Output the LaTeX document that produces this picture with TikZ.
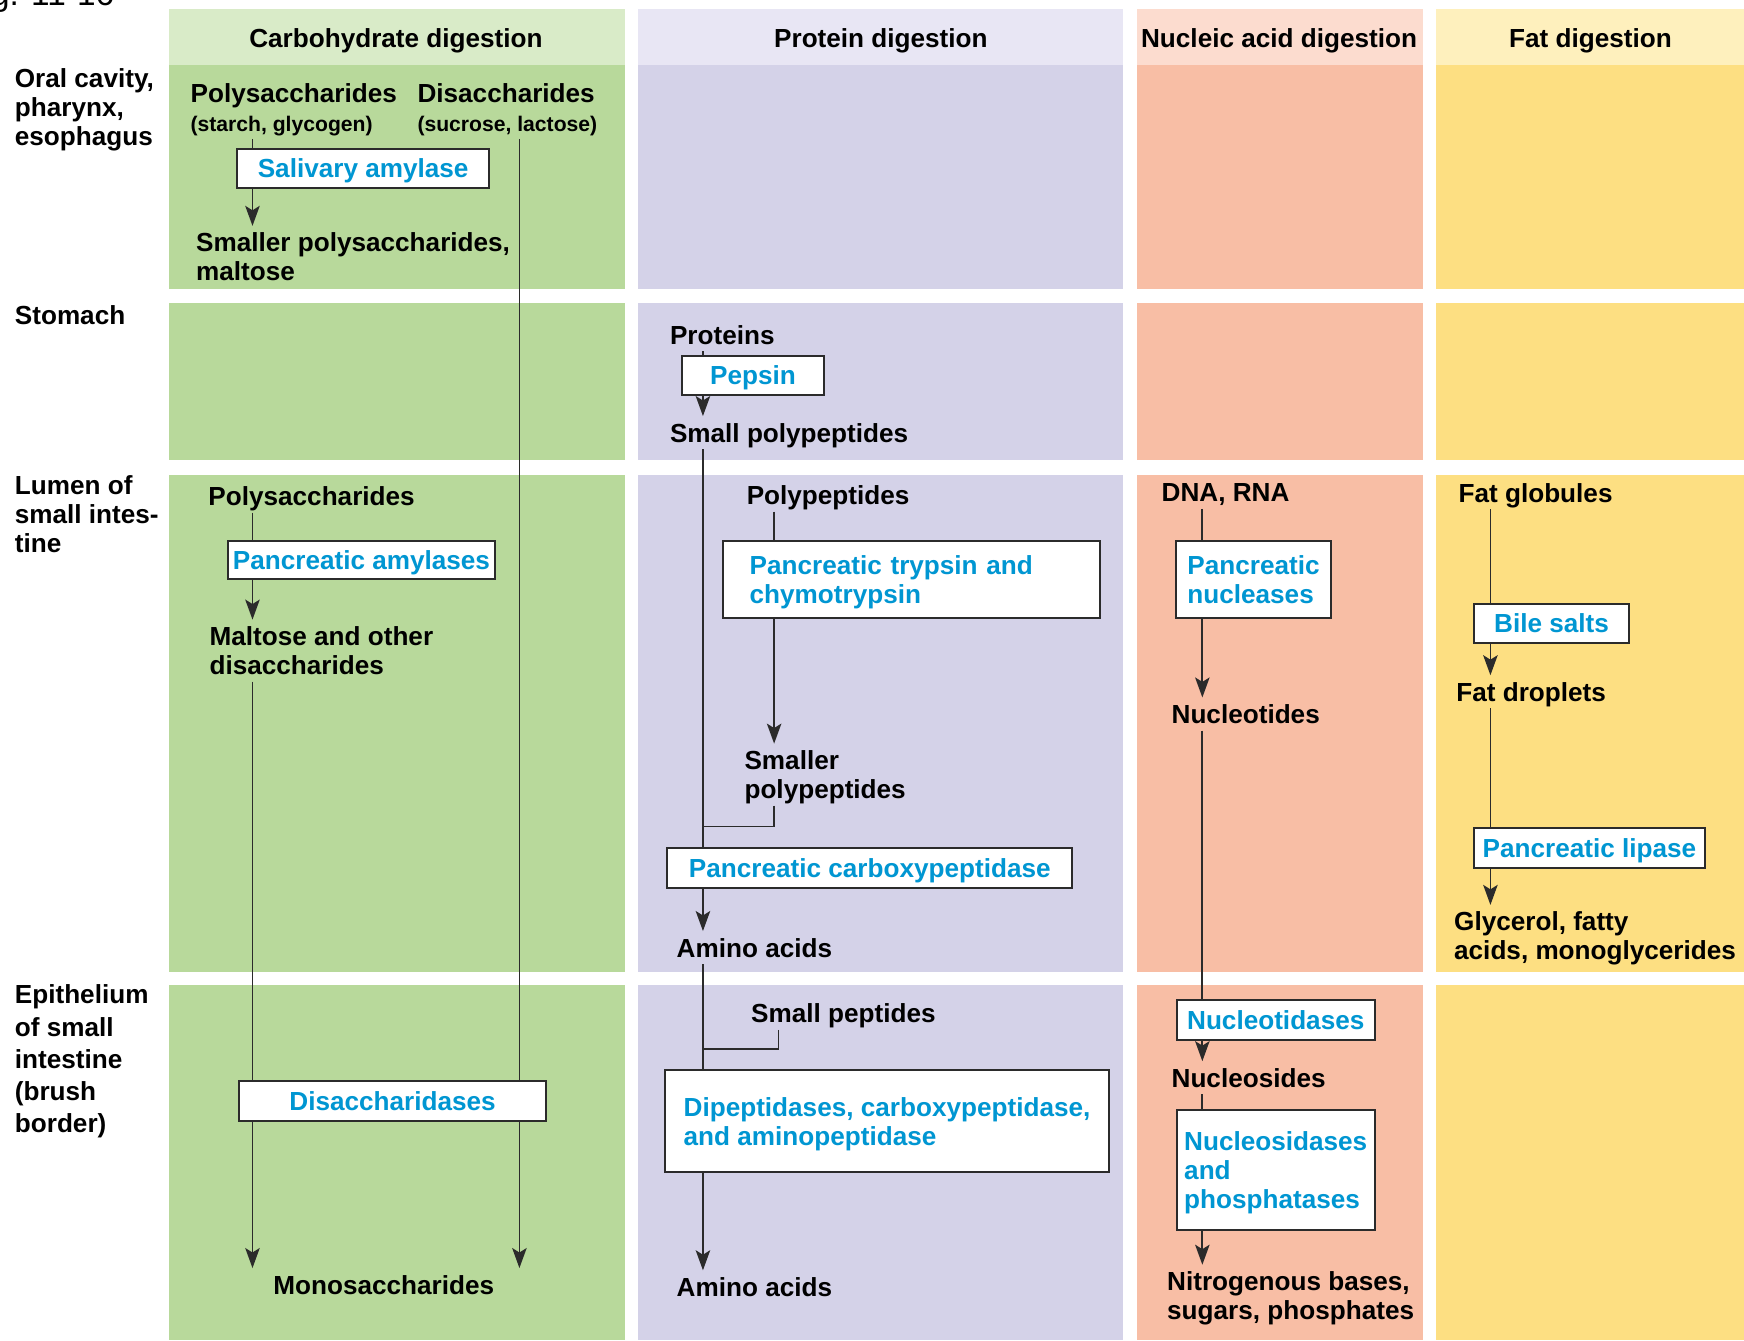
\documentclass[tikz,border=0pt]{standalone}
\usepackage{fontspec}
\setmainfont{Liberation Sans}
\usetikzlibrary{arrows.meta}

\definecolor{carbhead}{HTML}{D9EBC8}
\definecolor{carbbody}{HTML}{B8D99B}
\definecolor{prothead}{HTML}{E8E6F4}
\definecolor{protbody}{HTML}{D4D2E8}
\definecolor{nuchead}{HTML}{FCDCCF}
\definecolor{nucbody}{HTML}{F8BEA5}
\definecolor{fathead}{HTML}{FEF0BD}
\definecolor{fatbody}{HTML}{FDDF82}
\definecolor{enzblue}{RGB}{0,150,210}
\definecolor{linegray}{HTML}{2B2B2B}

\begin{document}
\begin{tikzpicture}[x=0.5pt,y=-0.5pt]
\tikzset{lbl/.style={font=\fontsize{11.75}{13}\selectfont\bfseries, inner xsep=0pt, inner ysep=3pt, text depth=0pt, anchor=west, align=left}}
\tikzset{hdr/.style={font=\fontsize{11.75}{13}\selectfont\bfseries, inner sep=0pt, text depth=0pt}}
\tikzset{enz/.style={draw=linegray, line width=0.9pt, fill=white, text=enzblue, font=\fontsize{11.75}{13}\selectfont\bfseries, inner xsep=0pt, inner ysep=0pt, text depth=0pt, align=left}}
\tikzset{flow/.style={draw=linegray, line width=0.8pt}}
\tikzset{flowarr/.style={flow, -{Stealth[length=9pt,width=6.5pt,inset=2pt]}}}

\useasboundingbox (0,0) rectangle (1568,1205);
\clip (0,0) rectangle (1568,1205);

% columns and rows
\foreach \xa/\xb/\hc/\bc in {152/562/carbhead/carbbody, 574/1010/prothead/protbody, 1022/1279/nuchead/nucbody, 1291/1568/fathead/fatbody}{
  \fill[\hc] (\xa,8) rectangle (\xb,58);
  \foreach \ya/\yb in {58/260, 272/414, 427/874, 886/1205}
    \fill[\bc] (\xa,\ya) rectangle (\xb,\yb);
}

\node[font=\fontsize{15}{18}\selectfont, anchor=base east, inner sep=0pt] (fig) at (103,4.5) {Fig. 11-16};

% headers
\node[hdr] (hcarb) at (356,34) {Carbohydrate digestion};
\node[hdr] (hprot) at (792,34) {Protein digestion};
\node[hdr] (hnuc) at (1150,34) {Nucleic acid digestion};
\node[hdr] (hfat) at (1430,34) {Fat digestion};

% row labels
\node[lbl] (oral) at (13,96) {Oral cavity,\\pharynx,\\esophagus};
\node[lbl] (stomach) at (13,283) {Stomach};
\node[lbl] (lumen) at (13,462) {Lumen of\\small intes-\\tine};
\node[lbl, font=\fontsize{11.75}{14.5}\selectfont\bfseries] (epith) at (13,952) {Epithelium\\of small\\intestine\\(brush\\border)};

% carbohydrate
\node[lbl] (polyA) at (171,97) {Polysaccharides\\{\fontsize{9.5}{13}\selectfont (starch, glycogen)}};
\node[lbl] (disA) at (375,97) {Disaccharides\\{\fontsize{9.5}{13}\selectfont (sucrose, lactose)}};
\node[enz, minimum width=113.5pt, minimum height=17.5pt] (salamyl) at (326.5,151.5) {Salivary amylase};
\node[lbl] (smallpoly) at (176,231) {Smaller polysaccharides,\\maltose};
\node[lbl] (polyB) at (187,446) {Polysaccharides};
\node[enz, minimum width=120pt, minimum height=17.5pt] (panamyl) at (325,503.5) {Pancreatic amylases};
\node[lbl] (maltose) at (188,585) {Maltose and other\\disaccharides};
\node[enz, minimum width=138pt, minimum height=18pt] (disacch) at (353,990) {Disaccharidases};
\node[lbl, anchor=center] (mono) at (345,1155) {Monosaccharides};

% protein
\node[lbl] (proteins) at (602,301) {Proteins};
\node[enz, minimum width=64pt, minimum height=17.5pt] (pepsin) at (677,337.5) {Pepsin};
\node[lbl] (smallpoly2) at (602,389) {Small polypeptides};
\node[lbl] (polypep) at (671,445) {Polypeptides};
\node[enz, text width=145.5pt, inner xsep=12pt, text depth=13pt, minimum height=35pt] (trypsin) at (819.5,521) {Pancreatic trypsin and\\chymotrypsin};
\node[lbl] (smallerpp) at (669,696.5) {Smaller\\polypeptides};
\node[enz, minimum width=182pt, minimum height=18pt] (carboxy) at (782,780) {Pancreatic carboxypeptidase};
\node[lbl] (amino1) at (608,852) {Amino acids};
\node[lbl] (smallpep) at (675,911) {Small peptides};
\node[enz, minimum width=199.5pt, minimum height=46pt] (dipept) at (797.5,1008) {Dipeptidases, carboxypeptidase,\\and aminopeptidase};
\node[lbl] (amino2) at (608,1157) {Amino acids};

% nucleic acid
\node[lbl] (dna) at (1044,443) {DNA, RNA};
\node[enz, minimum width=70pt, minimum height=35pt] (nucleases) at (1127,521) {Pancreatic\\nucleases};
\node[lbl] (nucleotides) at (1053,642) {Nucleotides};
\node[enz, minimum width=89pt, minimum height=18pt] (nucleotidases) at (1147,917) {Nucleotidases};
\node[lbl] (nucleosides) at (1053,969) {Nucleosides};
\node[enz, minimum width=89pt, minimum height=54pt] (nucleosidases) at (1147,1052) {Nucleosidases\\and\\phosphatases};
\node[lbl] (nitro) at (1049,1165) {Nitrogenous bases,\\sugars, phosphates};

% fat
\node[lbl] (fatglob) at (1311,443) {Fat globules};
\node[enz, minimum width=70pt, minimum height=17.5pt] (bile) at (1395,560.5) {Bile salts};
\node[lbl] (fatdrop) at (1309,622) {Fat droplets};
\node[enz, minimum width=104pt, minimum height=18pt] (lipase) at (1429,762) {Pancreatic lipase};
\node[lbl] (glycerol) at (1307,841.5) {Glycerol, fatty\\acids, monoglycerides};

% line positions
\coordinate (lx) at (227,0);
\coordinate (rx) at (467,0);
\coordinate (px) at (632,0);
\coordinate (qx) at (696,0);
\coordinate (sx) at (700,0);
\coordinate (nx) at (1081,0);
\coordinate (fx) at (1340,0);
\coordinate (j1) at (632,743);
\coordinate (j2) at (632,943);

% carbohydrate paths
\draw[flow] (polyA.south -| lx) -- (salamyl.north -| lx);
\draw[flowarr] (salamyl.south -| lx) -- (smallpoly.north -| lx);
\draw[flow] (disA.south -| rx) -- (disacch.north -| rx);
\draw[flowarr] (disacch.south -| rx) -- (mono.north -| rx);
\draw[flow] (polyB.south -| lx) -- (panamyl.north -| lx);
\draw[flowarr] (panamyl.south -| lx) -- (maltose.north -| lx);
\draw[flow] (maltose.south -| lx) -- (disacch.north -| lx);
\draw[flowarr] (disacch.south -| lx) -- (mono.north -| lx);

% protein paths
\draw[flow] (proteins.south -| px) -- (pepsin.north -| px);
\draw[flowarr] (pepsin.south -| px) -- (smallpoly2.north -| px);
\draw[flow] (smallpoly2.south -| px) -- (carboxy.north -| px);
\draw[flow] (polypep.south -| qx) -- (trypsin.north -| qx);
\draw[flowarr] (trypsin.south -| qx) -- (smallerpp.north -| qx);
\draw[flow] (smallerpp.south -| qx) |- (j1);
\draw[flowarr] (carboxy.south -| px) -- (amino1.north -| px);
\draw[flow] (amino1.south -| px) -- (dipept.north -| px);
\draw[flow] (smallpep.south -| sx) |- (j2);
\draw[flowarr] (dipept.south -| px) -- (amino2.north -| px);

% nucleic acid paths
\draw[flow] (dna.south -| nx) -- (nucleases.north -| nx);
\draw[flowarr] (nucleases.south -| nx) -- (nucleotides.north -| nx);
\draw[flow] (nucleotides.south -| nx) -- (nucleotidases.north -| nx);
\draw[flowarr] (nucleotidases.south -| nx) -- (nucleosides.north -| nx);
\draw[flow] (nucleosides.south -| nx) -- (nucleosidases.north -| nx);
\draw[flowarr] (nucleosidases.south -| nx) -- (nitro.north -| nx);

% fat paths
\draw[flow] (fatglob.south -| fx) -- (bile.north -| fx);
\draw[flowarr] (bile.south -| fx) -- (fatdrop.north -| fx);
\draw[flow] (fatdrop.south -| fx) -- (lipase.north -| fx);
\draw[flowarr] (lipase.south -| fx) -- (glycerol.north -| fx);

\end{tikzpicture}
\end{document}
